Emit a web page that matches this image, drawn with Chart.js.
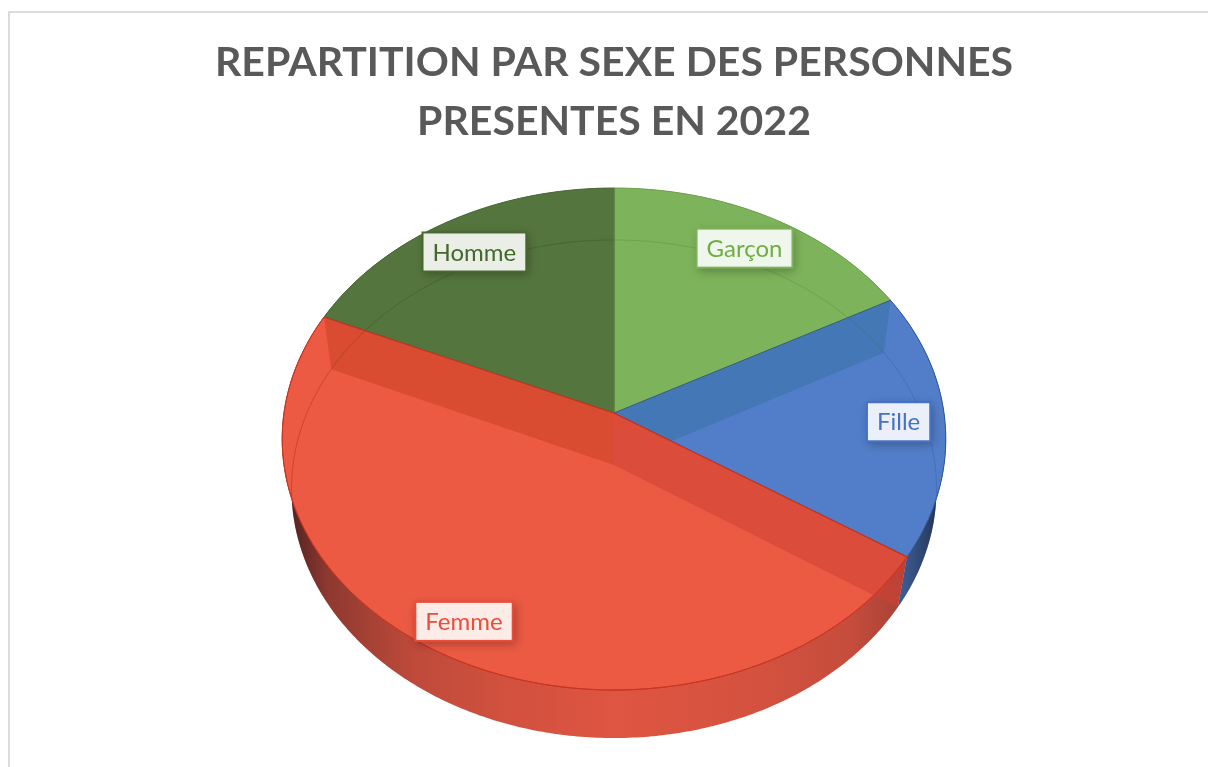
<!DOCTYPE html>
<html><head><meta charset="utf-8">
<style>
html,body{margin:0;padding:0;background:#fff;overflow:hidden;width:1208px;height:767px}
#frame{position:absolute;left:8px;top:11px;width:1300px;height:900px;border-left:2px solid #dcdcdc;border-top:2px solid #dcdcdc}
canvas{position:absolute;left:0;top:0}
</style>
<script src="https://cdn.jsdelivr.net/npm/chart.js@4/dist/chart.umd.js"></script>
</head><body>
<div id="frame"></div>
<canvas id="c" width="1208" height="767"></canvas>
<script>
const titleLines = ['REPARTITION PAR SEXE DES PERSONNES', 'PRESENTES EN 2022'];
const categories = ['Garçon', 'Fille', 'Femme', 'Homme'];
const shares = [17.1, 17.1, 47.4, 18.4];
const sliceColors = ['#7DB35A', '#527DC8', '#EC5A44', '#55753E'];
const edgeColors = ['#6f9f4e', '#2f5597', '#c8331f', '#4b6836'];
const ringColors = ['rgba(60,100,30,.2)', 'rgba(40,80,160,.3)', 'rgba(205,60,35,.8)', 'rgba(30,55,15,.22)'];
const labelColors = ['#70AD47', '#4472C4', '#ED4D38', '#43682B'];
const labelBorders = ['#7DB35A', '#4472C4', '#EE4B35', '#47692F'];
const labelRadii = [0.83, 0.86, 0.878, 0.83];

const TOP = {cx: 614, cy: 413, a: 330, b: 248.3, k: -0.1036};
const LOW = {cx: 614, cy: 465, a: 321, b: 246.7, k: -0.0964};
const proj = (p, u, v) => { const d = 1 + p.k * v; return [p.cx + p.a * u / d, p.cy + p.b * v / d]; };

function polyArc(ctx, p, a0, a1, rev) {
  const n = Math.max(8, Math.ceil(Math.abs(a1 - a0) * 90));
  for (let i = 0; i <= n; i++) {
    const t = rev ? a1 + (a0 - a1) * i / n : a0 + (a1 - a0) * i / n;
    const q = proj(p, Math.cos(t), Math.sin(t));
    ctx.lineTo(q[0], q[1]);
  }
}
function drawSliceOnPlane(ctx, el, p) {
  const R = el.outerRadius, X = el.x, Y = el.y;
  const yMin = Math.floor(p.cy - p.b / (1 - p.k) - 2), yMax = Math.ceil(p.cy + p.b / (1 + p.k) + 2);
  for (let y = yMin; y < yMax; y++) {
    const dy = y + .5 - p.cy;
    const v = dy / (p.b - p.k * dy);
    if (v < -1.02 || v > 1.02) continue;
    const s = 1 / (1 + p.k * v);
    const slope = p.b * s * s;
    ctx.save();
    ctx.beginPath(); ctx.rect(0, y, ctx.canvas.width, 1); ctx.clip();
    const sx = p.a * s / R, sy = slope / R;
    ctx.setTransform(sx, 0, 0, sy, p.cx - sx * X, y + .5 - sy * (Y + v * R));
    el.draw(ctx);
    ctx.restore();
  }
}
function cutQuad(ctx, ang, fill) {
  const t = proj(TOP, Math.cos(ang), Math.sin(ang)), l = proj(LOW, Math.cos(ang), Math.sin(ang));
  ctx.beginPath();
  ctx.moveTo(TOP.cx, TOP.cy); ctx.lineTo(t[0], t[1]); ctx.lineTo(l[0], l[1]); ctx.lineTo(LOW.cx, LOW.cy);
  ctx.closePath(); ctx.fillStyle = fill; ctx.fill();
}

const pie3d = {
  id: 'pie3d',
  beforeDatasetsDraw(chart) {
    const ctx = chart.ctx, els = chart.getDatasetMeta(0).data;
    // outer wall
    const shade = ctx.createLinearGradient(280, 0, 950, 0);
    [[0,.78],[.02,.66],[.07,.42],[.2,.2],[.33,.12],[.5,.06],[.7,.1],[.85,.17],[.93,.3],[.97,.55],[1,.85]]
      .forEach(s => shade.addColorStop(s[0], 'rgba(10,10,20,' + s[1] + ')'));
    els.forEach((el, i) => {
      ctx.beginPath();
      polyArc(ctx, TOP, el.startAngle, el.endAngle, false);
      polyArc(ctx, LOW, el.startAngle, el.endAngle, true);
      ctx.closePath();
      ctx.fillStyle = sliceColors[i]; ctx.fill();
      ctx.fillStyle = shade; ctx.fill();
    });
    // top faces, with the cut faces seen through the translucent surface
    [1, 0, 3].forEach(i => drawSliceOnPlane(ctx, els[i], TOP));
    cutQuad(ctx, els[1].startAngle, '#4477B5');
    drawSliceOnPlane(ctx, els[2], TOP);
    cutQuad(ctx, els[2].endAngle, '#D94C31');
    cutQuad(ctx, els[2].startAngle, 'rgba(205,65,52,.55)');
    // far rim of the lower face seen through
    ctx.save();
    ctx.beginPath();
    polyArc(ctx, TOP, 0, Math.PI * 2, false);
    ctx.closePath(); ctx.clip();
    els.forEach((el, i) => {
      ctx.beginPath();
      polyArc(ctx, LOW, el.startAngle, el.endAngle, false);
      ctx.strokeStyle = ringColors[i]; ctx.lineWidth = 1; ctx.stroke();
    });
    ctx.restore();
    // slice edges
    els.forEach((el, i) => {
      ctx.beginPath();
      ctx.moveTo(TOP.cx, TOP.cy);
      polyArc(ctx, TOP, el.startAngle, el.endAngle, false);
      ctx.closePath();
      ctx.strokeStyle = edgeColors[i]; ctx.lineWidth = 1; ctx.stroke();
    });
    ctx.beginPath();
    ctx.moveTo(TOP.cx, TOP.cy);
    polyArc(ctx, TOP, els[2].startAngle, els[2].endAngle, false);
    ctx.closePath();
    ctx.strokeStyle = edgeColors[2]; ctx.stroke();
    // data labels
    ctx.font = '24px Lato';
    ctx.textAlign = 'center'; ctx.textBaseline = 'middle';
    els.forEach((el, i) => {
      const m = (el.startAngle + el.endAngle) / 2;
      const c = proj(TOP, labelRadii[i] * Math.cos(m), labelRadii[i] * Math.sin(m));
      const tw = ctx.measureText(categories[i]).width;
      const bw = tw + 18, bh = 37;
      const bx = c[0] - bw / 2, by = c[1] - bh / 2;
      ctx.save();
      ctx.shadowColor = 'rgba(0,0,0,.28)'; ctx.shadowBlur = 9; ctx.shadowOffsetX = 2; ctx.shadowOffsetY = 3;
      ctx.fillStyle = labelBorders[i];
      ctx.fillRect(bx - 2, by - 2, bw + 4, bh + 4);
      ctx.restore();
      ctx.fillStyle = sliceColors[i]; ctx.fillRect(bx, by, bw, bh);
      ctx.fillStyle = 'rgba(255,255,255,.88)'; ctx.fillRect(bx, by, bw, bh);
      ctx.fillStyle = labelColors[i];
      ctx.fillText(categories[i], c[0], c[1] + 1);
    });
    return false;
  }
};

new Chart(document.getElementById('c'), {
  type: 'pie',
  data: {
    labels: categories,
    datasets: [{ data: shares, backgroundColor: sliceColors, borderWidth: 0 }]
  },
  options: {
    responsive: false,
    animation: false,
    layout: { padding: { top: 0, left: 20, right: 0 } },
    plugins: {
      legend: { display: false },
      tooltip: { enabled: false },
      title: {
        display: true,
        text: titleLines,
        color: '#595959',
        font: { family: 'Lato', weight: 'bold', size: 41, lineHeight: 1.44 },
        padding: { top: 33, bottom: 10 }
      }
    }
  },
  plugins: [pie3d]
});
</script>
</body></html>
